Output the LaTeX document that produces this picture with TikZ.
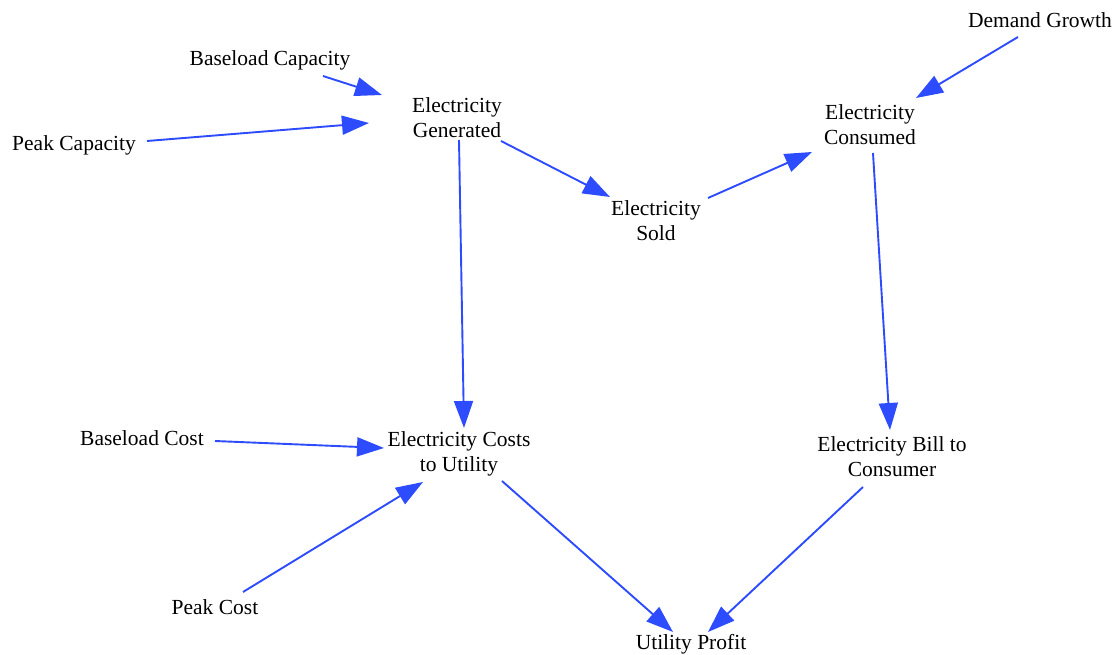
\documentclass[tikz,border=0pt]{standalone}
\usepackage{fontspec}
\setmainfont{Liberation Serif}
\usetikzlibrary{arrows.meta}
\definecolor{arrblue}{RGB}{45,75,255}
\begin{document}
\begin{tikzpicture}[x=1pt,y=-1pt,
  lbl/.style={font=\fontsize{21.5}{25}\selectfont, align=center, inner sep=0pt},
  arr/.style={draw=arrblue, line width=1.9pt, -{Triangle[length=27pt,width=19pt]}}]
\path[use as bounding box] (0,0) rectangle (1117,655);
\node[lbl] (bc)  at (270,60)  {Baseload Capacity};
\node[lbl] (pc)  at (74,145)  {Peak Capacity};
\node[lbl] (eg)  at (457,118) {Electricity\\Generated};
\node[lbl] (es)  at (656,221) {Electricity\\Sold};
\node[lbl] (ec)  at (870,125) {Electricity\\Consumed};
\node[lbl] (dg)  at (1040,20) {Demand Growth};
\node[lbl] (bco) at (142,438) {Baseload Cost};
\node[lbl] (ecu) at (459,454) {Electricity Costs\\to Utility};
\node[lbl] (pco) at (215,607) {Peak Cost};
\node[lbl] (bill) at (892,457) {Electricity Bill to\\Consumer};
\node[lbl] (up)  at (691,644) {Utility Profit};

\draw[arr] ([shift={(53,16)}]bc.center) -- ([shift={(-75,-23)}]eg.center);
\draw[arr] ([shift={(73,-4)}]pc.center) -- ([shift={(-88,5)}]eg.center);
\draw[arr] ([shift={(44,23)}]eg.center) -- ([shift={(-46,-24)}]es.center);
\draw[arr] ([shift={(52,-23)}]es.center) -- ([shift={(-58,27)}]ec.center);
\draw[arr] ([shift={(-22,17)}]dg.center) -- ([shift={(46,-27)}]ec.center);
\draw[arr] ([shift={(2,22)}]eg.center) -- ([shift={(5,-26)}]ecu.center);
\draw[arr] ([shift={(3,28)}]ec.center) -- ([shift={(-2,-27)}]bill.center);
\draw[arr] ([shift={(73,3)}]bco.center) -- ([shift={(-75,-6)}]ecu.center);
\draw[arr] ([shift={(28,-15)}]pco.center) -- ([shift={(-36,28)}]ecu.center);
\draw[arr] ([shift={(43,27)}]ecu.center) -- ([shift={(-18,-12)}]up.center);
\draw[arr] ([shift={(-29,30)}]bill.center) -- ([shift={(17,-12)}]up.center);
\end{tikzpicture}
\end{document}
